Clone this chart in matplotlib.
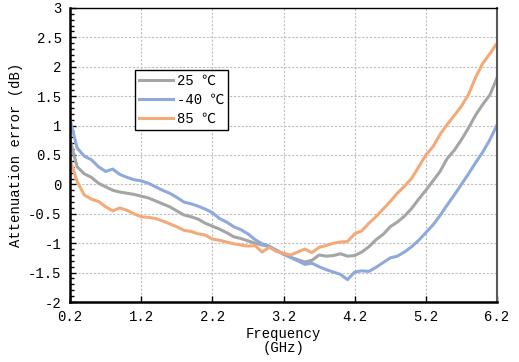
import numpy as np
import matplotlib.pyplot as plt
from matplotlib.ticker import MultipleLocator

## data (0.1 GHz steps)
freq_ghz = np.round(np.arange(0.2, 6.21, 0.1), 2)

err_25c = [
	0.76, 0.30, 0.18, 0.12, 0.02, -0.04, -0.10, -0.13, -0.15, -0.17,
	-0.20, -0.23, -0.28, -0.33, -0.38, -0.45, -0.52, -0.55, -0.59, -0.66,
	-0.71, -0.76, -0.82, -0.89, -0.92, -0.96, -1.00, -1.03, -1.06, -1.12,
	-1.19, -1.24, -1.28, -1.32, -1.29, -1.20, -1.22, -1.21, -1.18, -1.22,
	-1.21, -1.15, -1.06, -0.94, -0.85, -0.72, -0.64, -0.54, -0.41, -0.25,
	-0.10, 0.06, 0.22, 0.44, 0.58, 0.76, 0.96, 1.18, 1.36, 1.52,
	1.81]

err_m40c = [
	1.10, 0.62, 0.48, 0.42, 0.30, 0.22, 0.26, 0.17, 0.12, 0.08,
	0.06, 0.02, -0.04, -0.10, -0.15, -0.22, -0.30, -0.33, -0.37, -0.42,
	-0.48, -0.58, -0.64, -0.72, -0.77, -0.84, -0.94, -1.01, -1.05, -1.12,
	-1.18, -1.24, -1.30, -1.36, -1.34, -1.40, -1.45, -1.49, -1.53, -1.62,
	-1.49, -1.47, -1.48, -1.41, -1.33, -1.25, -1.22, -1.15, -1.06, -0.95,
	-0.82, -0.69, -0.53, -0.35, -0.18, 0.00, 0.18, 0.37, 0.55, 0.76,
	1.01]

err_85c = [
	0.42, 0.05, -0.18, -0.25, -0.29, -0.38, -0.45, -0.40, -0.44, -0.50,
	-0.55, -0.56, -0.58, -0.62, -0.67, -0.72, -0.78, -0.80, -0.84, -0.86,
	-0.93, -0.95, -0.98, -1.01, -1.03, -1.05, -1.04, -1.15, -1.07, -1.14,
	-1.17, -1.20, -1.15, -1.10, -1.16, -1.07, -1.04, -1.00, -0.98, -0.97,
	-0.84, -0.79, -0.66, -0.55, -0.42, -0.29, -0.15, -0.03, 0.10, 0.30,
	0.50, 0.64, 0.85, 1.02, 1.17, 1.33, 1.53, 1.82, 2.06, 2.22,
	2.40]

labels = ["25 \u2103", "-40 \u2103", "85 \u2103"]
x_ticks = [0.2, 1.2, 2.2, 3.2, 4.2, 5.2, 6.2]
y_ticks = [-2, -1.5, -1, -0.5, 0, 0.5, 1, 1.5, 2, 2.5, 3]

plt.rcParams["font.family"] = ["Liberation Mono", "Noto Sans CJK SC"]
plt.rcParams["font.size"] = 10

fig = plt.figure(figsize=(5.19, 3.62), dpi=100)
ax = fig.add_axes([0.1349, 0.1657, 0.8227, 0.8123])

ax.plot(freq_ghz, err_25c, color="#A5A5A5", linewidth=2.2, label=labels[0])
ax.plot(freq_ghz, err_m40c, color="#8EA9DB", linewidth=2.2, label=labels[1])
ax.plot(freq_ghz, err_85c, color="#F4AA78", linewidth=2.2, label=labels[2])

ax.set_xlim(0.2, 6.2)
ax.set_ylim(-2, 3)
ax.set_xticks(x_ticks)
ax.set_xticklabels(["{:.1f}".format(v) for v in x_ticks])
ax.set_yticks(y_ticks)
ax.set_yticklabels(["{:g}".format(v) for v in y_ticks])
ax.yaxis.set_minor_locator(MultipleLocator(0.1))
ax.tick_params(axis="both", which="major", direction="in", length=4,
	width=1, pad=6, labelsize=10, colors="black")
ax.tick_params(axis="y", which="minor", direction="in", length=3, width=1)
ax.tick_params(axis="x", which="both", top=False)

ax.grid(color="#BFBFBF", linestyle=(0, (2, 1.5)), linewidth=0.8)
ax.set_axisbelow(True)

ax.spines["left"].set_linewidth(1.8)
ax.spines["bottom"].set_linewidth(1.8)
ax.spines["top"].set_linewidth(1.0)
ax.spines["right"].set_linewidth(1.5)
ax.spines["right"].set_color("#595959")

ax.set_xlabel("Frequency\n(GHz)", fontsize=10, linespacing=1.0, labelpad=2)
ax.set_ylabel("Attenuation error (dB)", fontsize=10, labelpad=4)

leg = ax.legend(
	loc="upper left",
	bbox_to_anchor=(135 / 519, 1 - 70 / 362),
	bbox_transform=fig.transFigure,
	frameon=True,
	fancybox=False,
	edgecolor="black",
	framealpha=1,
	fontsize=10,
	handlelength=2.4,
	handletextpad=0.3,
	labelspacing=0.35,
	borderpad=0.3,
	borderaxespad=0)
leg.get_frame().set_linewidth(1.0)

fig.savefig("out.png", dpi=100)
